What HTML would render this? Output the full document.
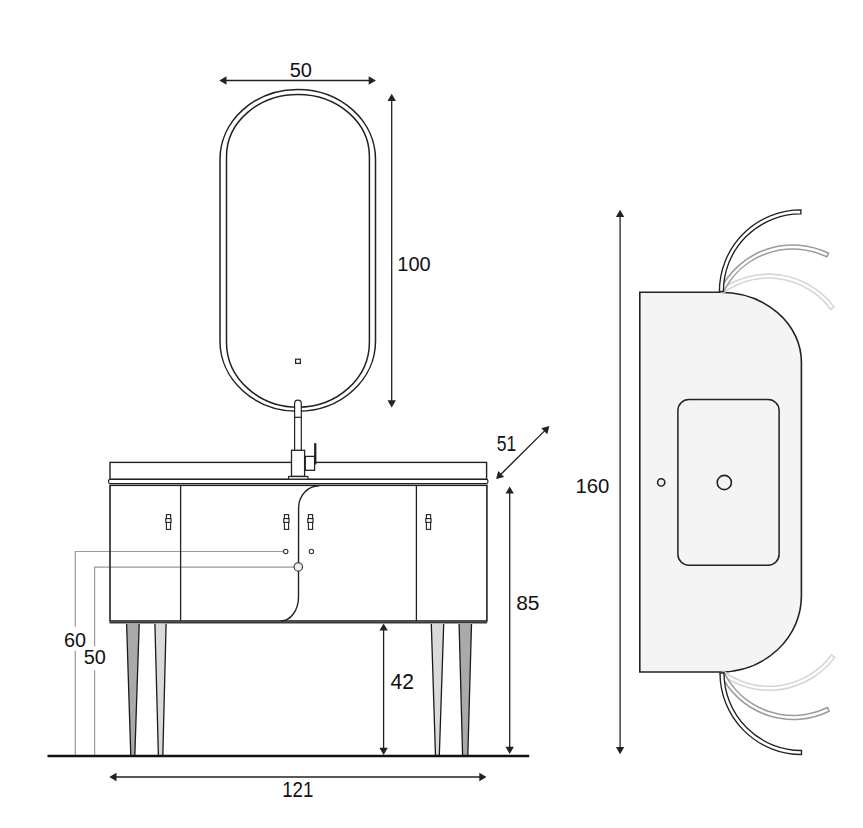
<!DOCTYPE html>
<html><head><meta charset="utf-8"><style>
html,body{margin:0;padding:0;background:#fff;}
svg{display:block;font-family:"Liberation Sans", sans-serif;}
</style></head><body>
<svg width="863" height="828" viewBox="0 0 863 828">
<rect width="863" height="828" fill="#fff"/>
<path d="M220.00 159.40 A77.75 70.00 0 0 1 375.50 159.40 L375.50 341.30 A77.75 70.00 0 0 1 220.00 341.30 Z" fill="none" stroke="#222222" stroke-width="1.5"/>
<path d="M226.50 156.40 A71.45 62.00 0 0 1 369.40 156.40 L369.40 342.20 A71.45 65.00 0 0 1 226.50 342.20 Z" fill="none" stroke="#222222" stroke-width="1.5"/>
<rect x="295.6" y="359.2" width="4.8" height="4.2" fill="none" stroke="#222222" stroke-width="1.2"/>
<line x1="223.62" y1="80.50" x2="371.58" y2="80.50" stroke="#222222" stroke-width="1.3"/><path d="M375.90 80.50 L368.70 84.70 L368.70 76.30 Z" fill="#222222"/><path d="M219.30 80.50 L226.50 76.30 L226.50 84.70 Z" fill="#222222"/>
<line x1="391.70" y1="98.12" x2="391.70" y2="403.18" stroke="#222222" stroke-width="1.3"/><path d="M391.70 407.50 L387.50 400.30 L395.90 400.30 Z" fill="#222222"/><path d="M391.70 93.80 L395.90 101.00 L387.50 101.00 Z" fill="#222222"/>
<rect x="110" y="462.4" width="376.6" height="16.9" fill="#fff" stroke="#222222" stroke-width="1.4"/>
<rect x="108.6" y="479.3" width="379.3" height="4.2" rx="1.5" fill="#fff" stroke="#222222" stroke-width="1.2"/>
<path d="M283.5 551.5 H75.3 V626.5 M75.3 650.5 V755 M294 567.2 H94.6 V646.4 M94.6 670.3 V755" fill="none" stroke="#9a9a9a" stroke-width="1.2"/>
<rect x="110" y="485.3" width="376.9" height="135.7" fill="none" stroke="#222222" stroke-width="1.6"/>
<line x1="109.5" y1="622.7" x2="487.1" y2="622.7" stroke="#3a3a3a" stroke-width="1.6"/>
<line x1="180.6" y1="485" x2="180.6" y2="621" stroke="#222222" stroke-width="1.3"/>
<line x1="416.4" y1="485" x2="416.4" y2="621" stroke="#222222" stroke-width="1.3"/>
<path d="M319.2 485.8 A20.6 22.2 0 0 0 298.6 508 L298.5 597 A17.8 24 0 0 1 280.7 621" fill="none" stroke="#222222" stroke-width="1.4"/>
<rect x="166.40" y="514.6" width="4.2" height="14.8" fill="#fff" stroke="#222222" stroke-width="1.1"/><rect x="165.80" y="518.6" width="5.2" height="3.8" fill="#fff" stroke="#222222" stroke-width="1.1"/>
<rect x="284.40" y="514.6" width="4.2" height="14.8" fill="#fff" stroke="#222222" stroke-width="1.1"/><rect x="283.80" y="518.6" width="5.2" height="3.8" fill="#fff" stroke="#222222" stroke-width="1.1"/>
<rect x="308.40" y="514.6" width="4.2" height="14.8" fill="#fff" stroke="#222222" stroke-width="1.1"/><rect x="307.80" y="518.6" width="5.2" height="3.8" fill="#fff" stroke="#222222" stroke-width="1.1"/>
<rect x="426.40" y="514.6" width="4.2" height="14.8" fill="#fff" stroke="#222222" stroke-width="1.1"/><rect x="425.80" y="518.6" width="5.2" height="3.8" fill="#fff" stroke="#222222" stroke-width="1.1"/>
<circle cx="285.7" cy="551.5" r="2.2" fill="#fff" stroke="#333" stroke-width="1.1"/>
<circle cx="311.4" cy="551.5" r="2.2" fill="#fff" stroke="#333" stroke-width="1.1"/>
<circle cx="298.3" cy="566.9" r="4.2" fill="#eee" stroke="#333" stroke-width="1.1"/>
<path d="M126.6 623.8 L139.2 623.8 L134.8 756 L130.8 756 Z" fill="#aaaaaa"/><path d="M126.6 624 L130.8 756 M139.2 624 L134.8 756" stroke="#1a1a1a" stroke-width="1.3" fill="none"/>
<path d="M154.9 623.8 L166.1 623.8 L162.8 756 L158.4 756 Z" fill="#dadada"/><path d="M154.9 624 L158.4 756 M166.1 624 L162.8 756" stroke="#1a1a1a" stroke-width="1.3" fill="none"/>
<path d="M431.3 623.8 L443.7 623.8 L439.3 756 L435.5 756 Z" fill="#dadada"/><path d="M431.3 624 L435.5 756 M443.7 624 L439.3 756" stroke="#1a1a1a" stroke-width="1.3" fill="none"/>
<path d="M459.1 623.8 L471.5 623.8 L467.8 756 L462.6 756 Z" fill="#aaaaaa"/><path d="M459.1 624 L462.6 756 M471.5 624 L467.8 756" stroke="#1a1a1a" stroke-width="1.3" fill="none"/>
<line x1="47.5" y1="756" x2="529.2" y2="756" stroke="#111" stroke-width="2.5"/>
<path d="M294.6 450.3 L294.6 403.5 A3.35 3.35 0 0 1 301.3 403.5 L301.3 450.3" fill="#fff" stroke="#222222" stroke-width="1.2"/>
<line x1="294.6" y1="417.3" x2="301.3" y2="417.3" stroke="#222222" stroke-width="1.2"/>
<rect x="291.5" y="450.3" width="13.1" height="26.1" fill="#fff" stroke="#222222" stroke-width="1.3"/>
<rect x="288.6" y="476.4" width="19.3" height="2.8" fill="#ddd" stroke="#222222" stroke-width="1.1"/>
<rect x="305.3" y="456.4" width="9.3" height="13.9" fill="#fff" stroke="#222222" stroke-width="1.3"/>
<rect x="314.1" y="443.2" width="2.3" height="21.2" fill="#222222"/>
<line x1="499.16" y1="476.05" x2="546.34" y2="429.15" stroke="#222222" stroke-width="1.3"/><path d="M549.40 426.10 L547.26 434.15 L541.33 428.20 Z" fill="#222222"/><path d="M496.10 479.10 L498.24 471.05 L504.17 477.00 Z" fill="#222222"/>
<line x1="509.70" y1="490.72" x2="509.70" y2="749.68" stroke="#222222" stroke-width="1.3"/><path d="M509.70 754.00 L505.50 746.80 L513.90 746.80 Z" fill="#222222"/>
<path d="M509.70 486.40 L513.90 493.60 L505.50 493.60 Z" fill="#222222"/>
<line x1="383.60" y1="627.72" x2="383.60" y2="750.68" stroke="#222222" stroke-width="1.3"/><path d="M383.60 755.00 L379.40 747.80 L387.80 747.80 Z" fill="#222222"/><path d="M383.60 623.40 L387.80 630.60 L379.40 630.60 Z" fill="#222222"/>
<line x1="113.62" y1="777.00" x2="482.18" y2="777.00" stroke="#222222" stroke-width="1.3"/><path d="M486.50 777.00 L479.30 781.20 L479.30 772.80 Z" fill="#222222"/><path d="M109.30 777.00 L116.50 772.80 L116.50 781.20 Z" fill="#222222"/>
<line x1="620.10" y1="214.12" x2="620.10" y2="749.98" stroke="#222222" stroke-width="1.3"/><path d="M620.10 754.30 L615.90 747.10 L624.30 747.10 Z" fill="#222222"/><path d="M620.10 209.80 L624.30 217.00 L615.90 217.00 Z" fill="#222222"/>
<path d="M639.8 292.2 H720 A81.4 70 0 0 1 801.4 362.2 V596 A81.4 76 0 0 1 720 672 H639.8 Z" fill="#f4f4f4" stroke="#222222" stroke-width="1.6"/>
<rect x="677.9" y="399.6" width="101.2" height="165.6" rx="11" fill="#f4f4f4" stroke="#222222" stroke-width="1.5"/>
<circle cx="724.3" cy="482.5" r="7.1" fill="none" stroke="#222222" stroke-width="1.6"/>
<circle cx="661.2" cy="482.4" r="3.6" fill="none" stroke="#222222" stroke-width="1.6"/>
<path d="M720.00 292.00 A81.5 81.5 0 0 1 801.50 210.50 L801.50 214.50 A77.5 77.5 0 0 0 724.00 292.00 Z" fill="#fff" stroke="#d6d6d6" stroke-width="1.6" transform="translate(-0.6 -0.6) rotate(53.4 721.5 292.0)"/>
<path d="M720.00 292.00 A81.5 81.5 0 0 1 801.50 210.50 L801.50 214.50 A77.5 77.5 0 0 0 724.00 292.00 Z" fill="#fff" stroke="#9c9c9c" stroke-width="1.6" transform="translate(-0.6 -0.6) rotate(26.0 721.5 292.0)"/>
<path d="M720.00 292.00 A81.5 81.5 0 0 1 801.50 210.50 L801.50 214.50 A77.5 77.5 0 0 0 724.00 292.00 Z" fill="#fff" stroke="#222222" stroke-width="1.35" transform="translate(-0.6 -0.6) rotate(0 721.5 292.0)"/>
<path d="M720.00 292.00 A81.5 81.5 0 0 1 801.50 210.50 L801.50 214.50 A77.5 77.5 0 0 0 724.00 292.00 Z" fill="#fff" stroke="#d6d6d6" stroke-width="1.6" transform="translate(0 966) scale(1 -1) translate(0 1) rotate(53.4 721.5 292.0)"/>
<path d="M720.00 292.00 A81.5 81.5 0 0 1 801.50 210.50 L801.50 214.50 A77.5 77.5 0 0 0 724.00 292.00 Z" fill="#fff" stroke="#9c9c9c" stroke-width="1.6" transform="translate(0 966) scale(1 -1) translate(0 1) rotate(26.0 721.5 292.0)"/>
<path d="M720.00 292.00 A81.5 81.5 0 0 1 801.50 210.50 L801.50 214.50 A77.5 77.5 0 0 0 724.00 292.00 Z" fill="#fff" stroke="#222222" stroke-width="1.35" transform="translate(0 966) scale(1 -1) translate(0 1) rotate(0 721.5 292.0)"/>
<text transform="translate(289.698 76.599) scale(0.97156 1)" x="0" y="0" font-size="20.621" fill="#111">50</text>
<text transform="translate(397.275 271.397) scale(0.96438 1)" x="0" y="0" font-size="20.762" fill="#111">100</text>
<text transform="translate(496.800 451.090) scale(0.81358 1)" x="0" y="0" font-size="21.498" fill="#111">51</text>
<text transform="translate(516.190 610.394) scale(0.99490 1)" x="0" y="0" font-size="21.045" fill="#111">85</text>
<text transform="translate(390.516 688.500) scale(0.98769 1)" x="0" y="0" font-size="21.339" fill="#111">42</text>
<text transform="translate(282.179 796.600) scale(0.88032 1)" x="0" y="0" font-size="21.196" fill="#111">121</text>
<text transform="translate(575.450 493.496) scale(0.97326 1)" x="0" y="0" font-size="20.904" fill="#111">160</text>
<text transform="translate(63.992 646.610) scale(1.01861 1)" x="0" y="0" font-size="19.491" fill="#111">60</text>
<text transform="translate(83.702 663.610) scale(1.02292 1)" x="0" y="0" font-size="19.491" fill="#111">50</text>
</svg>
</body></html>
